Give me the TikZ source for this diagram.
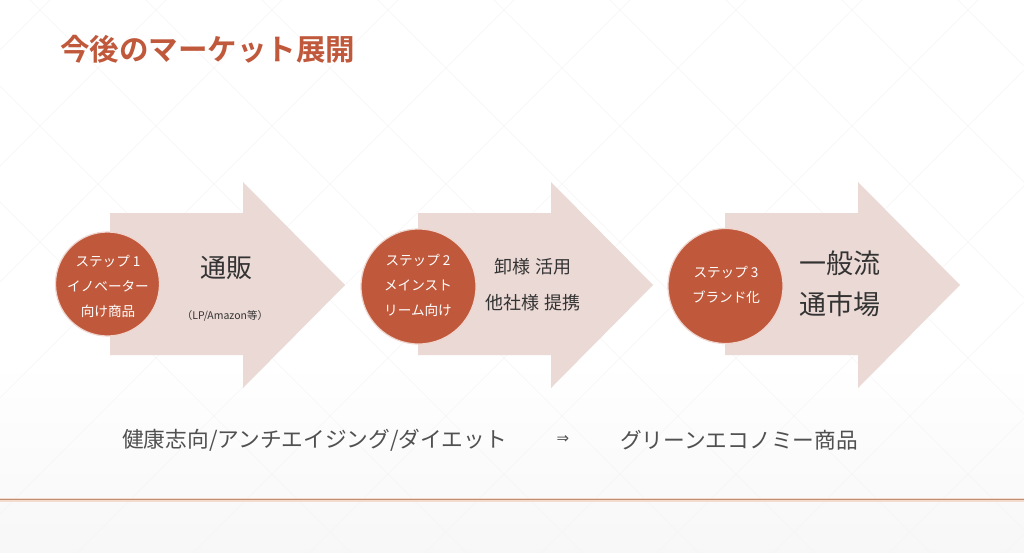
\documentclass[tikz,border=0pt]{standalone}
\usepackage{fontspec}
\newfontfamily\jp{Noto Sans CJK JP}
\newfontfamily\jpb{Noto Sans CJK JP Bold}
\newfontfamily\dv{DejaVu Sans}
\definecolor{rust}{HTML}{C0593B}
\definecolor{arrowpink}{HTML}{EBD9D5}
\definecolor{txt}{HTML}{333333}
\definecolor{btxt}{HTML}{505050}
\definecolor{rulecol}{HTML}{C08E70}
\definecolor{rulehalo}{HTML}{F3DCCD}
\definecolor{lattice}{HTML}{F6F6F6}
\usetikzlibrary{calc}
\tikzset{
  stepcircle/.style={circle, fill=rust, draw=rust!25!white, line width=1.2pt, inner sep=0pt},
  circtext/.style={text=white, font=\jp\fontsize{13.6}{25}\selectfont, align=center, inner sep=0pt},
  arrowtext/.style={text=txt, align=center, inner sep=0pt},
  bigarrow/.style={fill=arrowpink, draw=none},
  bottomtext/.style={text=btxt, font=\jp\fontsize{21.7}{24}\selectfont, inner sep=0pt, anchor=west}
}
\begin{document}
\begin{tikzpicture}[x=1pt,y=-1pt]
\useasboundingbox (0,0) rectangle (1024,552);
% background
\fill[white] (0,0) rectangle (1024,552);
\shade[top color=white, bottom color=black!3] (0,360) rectangle (1024,552);
\begin{scope}
\clip (0,0) rectangle (1024,552);
\foreach \k in {-6,...,10} {
  \draw[lattice, line width=0.6pt] ({494+116*\k-100},-100) -- ({494+116*\k+700},700);
  \draw[lattice, line width=0.6pt] ({630+116*\k+100},-100) -- ({630+116*\k-700},700);
}
\end{scope}
% title
\node[anchor=west, text=rust, font=\jpb\fontsize{29.5}{32}\selectfont, inner sep=0pt] (title) at (60,49) {今後のマーケット展開};
% arrows
\foreach \L/\n in {110/a1, 418/a2, 725/a3} {
  \fill[bigarrow] (\L,213) -- ({\L+133},213) -- ({\L+133},182) -- ({\L+235},285) -- ({\L+133},388) -- ({\L+133},355) -- (\L,355) -- cycle;
}
% circles
\node[stepcircle, minimum size=104pt] (c1) at (107.5,284) {};
\node[stepcircle, minimum size=115pt] (c2) at (418.5,286.5) {};
\node[stepcircle, minimum size=115pt] (c3) at (725.5,286) {};
\node[circtext] (t1) at (108,286) {ステップ 1\\イノベーター\\向け商品};
\node[circtext] (t2) at (418,285) {ステップ 2\\メインスト\\リーム向け};
\node[circtext] (t3) at (726,285) {ステップ 3\\ブランド化};
% arrow texts
\node[arrowtext, font=\jp\fontsize{26}{30}\selectfont] (m1) at (226,268) {通販};
\node[arrowtext, font=\jp\fontsize{10.5}{12}\selectfont] (s1) at (225,316) {（LP/Amazon等）};
\node[arrowtext, font=\jp\fontsize{18}{36}\selectfont] (m2) at (533,285) {卸様 活用\\他社様 提携};
\node[arrowtext, font=\jp\fontsize{27}{41}\selectfont] (m3) at (840,284) {一般流\\通市場};
% bottom text
\node[bottomtext] (b1) at (122,440) {健康志向/アンチエイジング/ダイエット};
\node[text=btxt, font=\dv\fontsize{15}{18}\selectfont, inner sep=0pt] (arr) at (563,440) {⇒};
\node[bottomtext] (b2) at (620,440) {グリーンエコノミー商品};
% rule
\fill[rulehalo] (0,497.5) rectangle (1024,501.5);
\fill[rulecol] (0,498.9) rectangle (1024,500.1);
\end{tikzpicture}
\end{document}
